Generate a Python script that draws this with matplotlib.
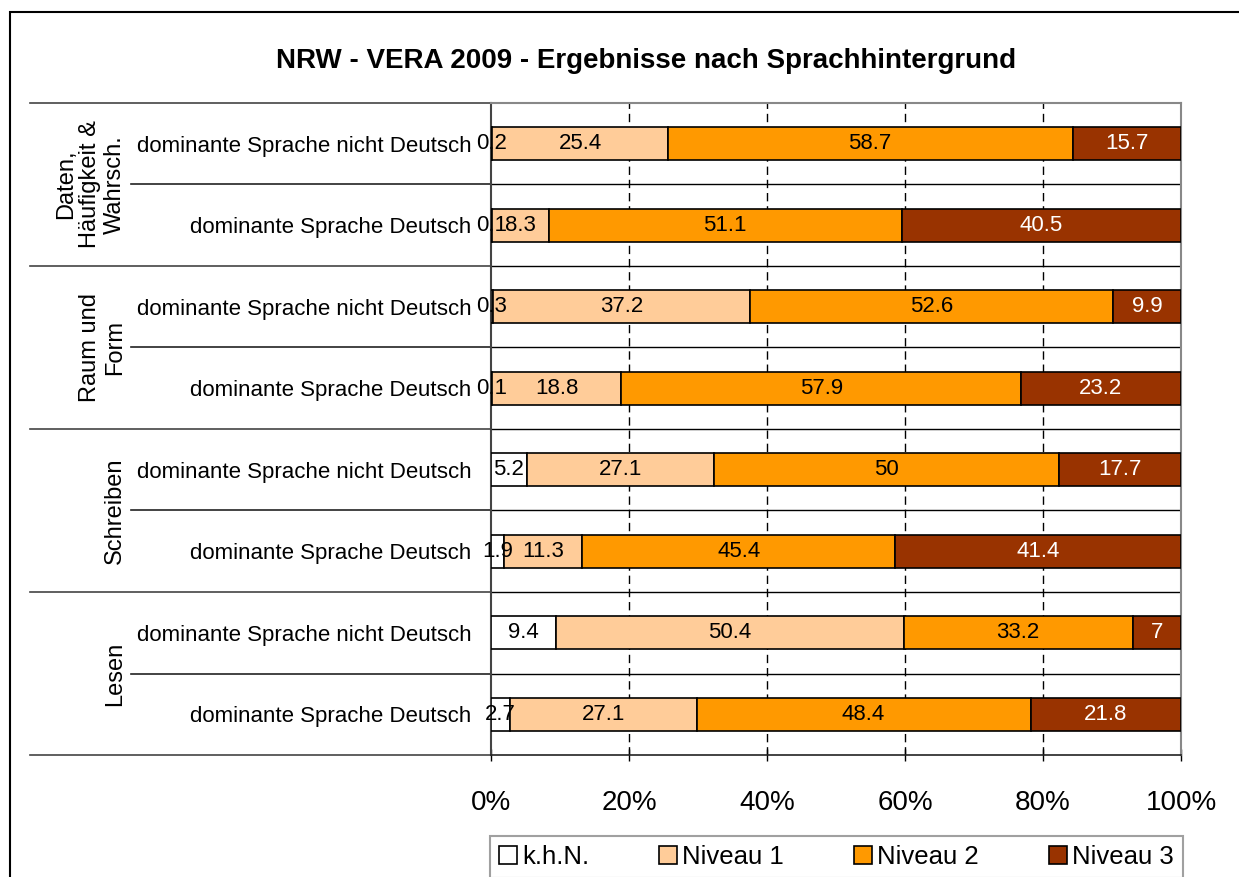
import matplotlib
matplotlib.use("Agg")
import matplotlib.pyplot as plt
from matplotlib.patches import Rectangle, Patch
import numpy as np

plt.rcParams['font.family'] = ['Liberation Sans', 'DejaVu Sans']

title = "NRW - VERA 2009 - Ergebnisse nach Sprachhintergrund"
groups = ["Daten,\nHäufigkeit &\nWahrsch.", "Raum und\nForm", "Schreiben", "Lesen"]
rows = ["dominante Sprache nicht Deutsch", "dominante Sprache Deutsch"] * 4
series = ["k.h.N.", "Niveau 1", "Niveau 2", "Niveau 3"]
khn = [0.2, 0.1, 0.3, 0.1, 5.2, 1.9, 9.4, 2.7]
niv1 = [25.4, 8.3, 37.2, 18.8, 27.1, 11.3, 50.4, 27.1]
niv2 = [58.7, 51.1, 52.6, 57.9, 50, 45.4, 33.2, 48.4]
niv3 = [15.7, 40.5, 9.9, 23.2, 17.7, 41.4, 7, 21.8]
xticks = [0, 20, 40, 60, 80, 100]
xticklabels = ["0%", "20%", "40%", "60%", "80%", "100%"]

colors = ["#FFFFFF", "#FFCC99", "#FF9900", "#993300"]
textcolors = ["black", "black", "black", "white"]

W, H = 1239, 877
fig = plt.figure(figsize=(W / 100, H / 100), dpi=100)
ax = fig.add_axes([491 / W, 1 - 755 / H, 690 / W, 652 / H])

data = [khn, niv1, niv2, niv3]
y = np.arange(len(rows))
left = np.zeros(len(rows))
for vals, c, tc, name in zip(data, colors, textcolors, series):
    vals = np.array(vals, dtype=float)
    ax.barh(y, vals, left=left, height=0.4, color=c, edgecolor="black",
            linewidth=1.2, label=name, zorder=3)
    for yi, (l, v) in enumerate(zip(left, vals)):
        ax.text(l + v / 2, yi, f"{v:g}", ha="center", va="center",
                fontsize=16, color=tc, zorder=4, clip_on=False)
    left = left + vals

ax.set_xlim(0, 100)
ax.set_ylim(len(rows) - 0.5, -0.5)
ax.set_xticks(xticks)
ax.set_xticklabels(xticklabels, fontsize=20)
ax.tick_params(axis="x", direction="inout", length=9, width=1, pad=21)
ax.set_yticks(y)
ax.set_yticklabels(rows, fontsize=16)
ax.tick_params(axis="y", length=0, pad=14)

# dashed vertical gridlines
for xv in xticks[1:-1]:
    ax.axvline(xv, color="black", lw=1, ls=(0, (6, 3.5)), zorder=1)

# horizontal boundaries inside the plot area
for b in np.arange(0.5, len(rows) - 0.5, 1.0):
    ax.axhline(b, color="black", lw=1, zorder=1)

# category separators outside the plot area
trans = ax.get_yaxis_transform()
gx = (30 - 491) / 690
sx = (131 - 491) / 690
for b in np.arange(-0.5, len(rows), 2.0):
    ax.plot([gx, 0], [b, b], transform=trans, color="#444444", lw=1.2, clip_on=False)
for b in np.arange(0.5, len(rows), 2.0):
    ax.plot([sx, 0], [b, b], transform=trans, color="#222222", lw=1.2, clip_on=False)

# group labels
lx = (126 - 491) / 690
for gi, g in enumerate(groups):
    ax.text(lx, 2 * gi + 0.5, g, transform=trans, rotation=90, ha="right",
            va="center", multialignment="center", fontsize=17, linespacing=1.15)

for s in ["top", "right"]:
    ax.spines[s].set_color("#888888")
    ax.spines[s].set_linewidth(1.5)
ax.spines["left"].set_color("#444444")
ax.spines["left"].set_linewidth(1.5)
ax.spines["bottom"].set_color("#222222")
ax.spines["bottom"].set_linewidth(1.2)

fig.text(646 / W, 1 - 61 / H, title, ha="center", va="center",
         fontsize=20, fontweight="bold")

handles = [Patch(facecolor=c, edgecolor="black", linewidth=1.2) for c in colors]
leg = fig.legend(handles, series, loc="upper left",
                 bbox_to_anchor=(490 / W, 1 - 836 / H - 0.06, 693 / W, 0.06),
                 mode="expand", ncol=4, fontsize=18.5, frameon=True,
                 fancybox=False, edgecolor="#888888", handlelength=0.7,
                 handleheight=0.7, handletextpad=0.2, borderpad=0.35,
                 borderaxespad=0)
leg.get_frame().set_linewidth(1.5)

fig.patches.append(Rectangle((10 / W, -0.1), 1.2, (H - 12) / H + 0.1,
                             transform=fig.transFigure, fill=False,
                             edgecolor="black", lw=1.5))

fig.savefig("out.png", dpi=100)
